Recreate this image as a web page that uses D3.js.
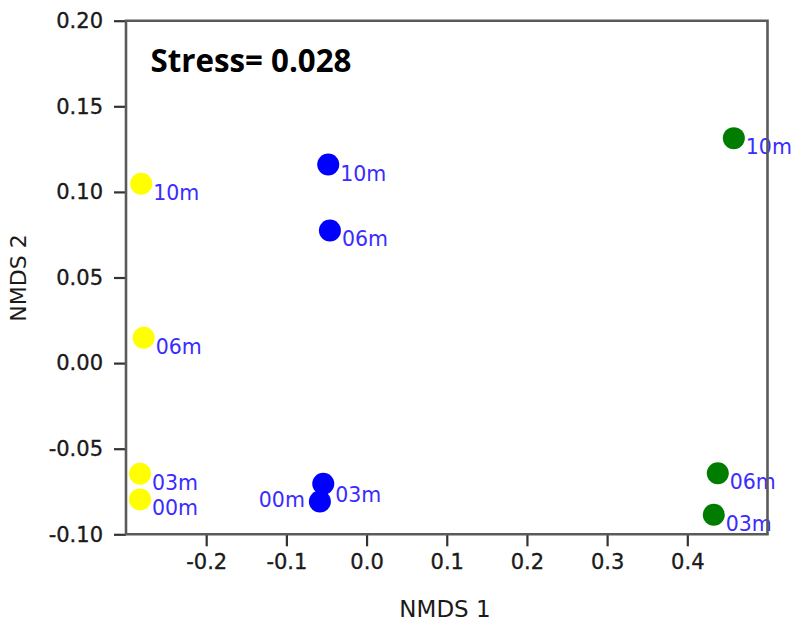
<!DOCTYPE html>
<html>
<head>
<meta charset="utf-8">
<script src="https://cdn.jsdelivr.net/npm/d3@7"></script>
<style>
  html, body { margin: 0; padding: 0; background: #fff; }
  svg { display: block; }
</style>
</head>
<body>
<svg id="chart" width="795" height="625"></svg>
<script>
// NMDS ordination scores, one group of sampling depths per colour
const yellowLabels = ["00m", "03m", "06m", "10m"];
const yellowNMDS1 = [-0.2825, -0.2825, -0.278, -0.281];
const yellowNMDS2 = [-0.0796, -0.0646, 0.0148, 0.1048];

const blueLabels = ["00m", "03m", "06m", "10m"];
const blueNMDS1 = [-0.0582, -0.054, -0.0457, -0.0478];
const blueNMDS2 = [-0.0808, -0.0705, 0.0775, 0.116];

const greenLabels = ["03m", "06m", "10m"];
const greenNMDS1 = [0.433, 0.438, 0.458];
const greenNMDS2 = [-0.0886, -0.0643, 0.1314];

const xTicks = [-0.2, -0.1, 0.0, 0.1, 0.2, 0.3, 0.4];
const yTicks = [-0.10, -0.05, 0.00, 0.05, 0.10, 0.15, 0.20];
const stressText = "Stress= 0.028";

const groups = [
  { color: "#ffff00", labels: yellowLabels, x: yellowNMDS1, y: yellowNMDS2, name: "yellow" },
  { color: "#0000ff", labels: blueLabels, x: blueNMDS1, y: blueNMDS2, name: "blue" },
  { color: "#007d00", labels: greenLabels, x: greenNMDS1, y: greenNMDS2, name: "green" }
];

const svg = d3.select("#chart");
const plotLeft = 126, plotRight = 767.5, plotTop = 20.7, plotBottom = 534.3;
const x = d3.scaleLinear().domain([-0.3, 0.5]).range([plotLeft, plotRight]);
const y = d3.scaleLinear().domain([-0.10, 0.20]).range([plotBottom, plotTop]);

const tickFont = "DejaVu Sans, sans-serif";
const axisColor = "#5a5a5a";

// x axis
const xAxis = svg.append("g")
  .attr("transform", `translate(0,${plotBottom})`)
  .call(d3.axisBottom(x).tickValues(xTicks).tickSizeOuter(0).tickSize(12).tickPadding(8));
// y axis
const yAxis = svg.append("g")
  .attr("transform", `translate(${plotLeft},0)`)
  .call(d3.axisLeft(y).tickValues(yTicks).tickSizeOuter(0).tickSize(12).tickPadding(11));

[xAxis, yAxis].forEach(g => {
  g.select(".domain").remove();
  g.selectAll(".tick line").attr("stroke", "#333").attr("stroke-width", 2.2);
  g.selectAll(".tick text")
    .attr("fill", "#1a1a1a")
    .attr("stroke", "#1a1a1a")
    .attr("stroke-width", 0.35)
    .style("font-family", tickFont)
    .style("font-size", "21px");
});
xAxis.selectAll(".tick text").text(d => d3.format(".1f")(d).replace("\u2212", "-"));
yAxis.selectAll(".tick text").text(d => d3.format(".2f")(d).replace("\u2212", "-"));

// axis titles
svg.append("text")
  .attr("x", 445)
  .attr("y", 617)
  .attr("text-anchor", "middle")
  .attr("fill", "#1a1a1a")
  .style("font-family", tickFont)
  .style("font-size", "23px")
  .text("NMDS 1");

svg.append("text")
  .attr("transform", `translate(26,278) rotate(-90)`)
  .attr("text-anchor", "middle")
  .attr("fill", "#1a1a1a")
  .style("font-family", tickFont)
  .style("font-size", "22px")
  .text("NMDS 2");

// points and depth labels
const pts = [];
groups.forEach(g => g.labels.forEach((lab, i) => pts.push({ group: g.name, color: g.color, label: lab, nx: g.x[i], ny: g.y[i] })));

const isLeftLabel = d => d.group === "blue" && d.label === "00m";

svg.append("g").selectAll("circle")
  .data(pts).join("circle")
  .attr("cx", d => x(d.nx))
  .attr("cy", d => y(d.ny))
  .attr("r", 11)
  .attr("fill", d => d.color);

svg.append("g").selectAll("text")
  .data(pts).join("text")
  .attr("x", d => x(d.nx) + (isLeftLabel(d) ? -15 : 12))
  .attr("y", d => y(d.ny) + (isLeftLabel(d) ? 6 : (d.group === "blue" && d.label === "03m" ? 18 : 16)))
  .attr("text-anchor", d => isLeftLabel(d) ? "end" : "start")
  .attr("fill", "#3a2cff")
  .style("font-family", tickFont)
  .style("font-size", "20.5px")
  .text(d => d.label);

// plot frame
svg.append("path")
  .attr("d", `M${plotLeft},${plotTop}H${plotRight}V${plotBottom}H${plotLeft}Z`)
  .attr("fill", "none")
  .attr("stroke", axisColor)
  .attr("stroke-width", 2.6);

// stress annotation
svg.append("text")
  .attr("x", 150.5)
  .attr("y", 71.5)
  .attr("fill", "#000")
  .attr("textLength", 201)
  .attr("lengthAdjust", "spacingAndGlyphs")
  .style("font-family", "'Open Sans', 'Liberation Sans', sans-serif")
  .style("font-weight", "bold")
  .style("font-size", "33px")
  .text(stressText);
</script>
</body>
</html>
